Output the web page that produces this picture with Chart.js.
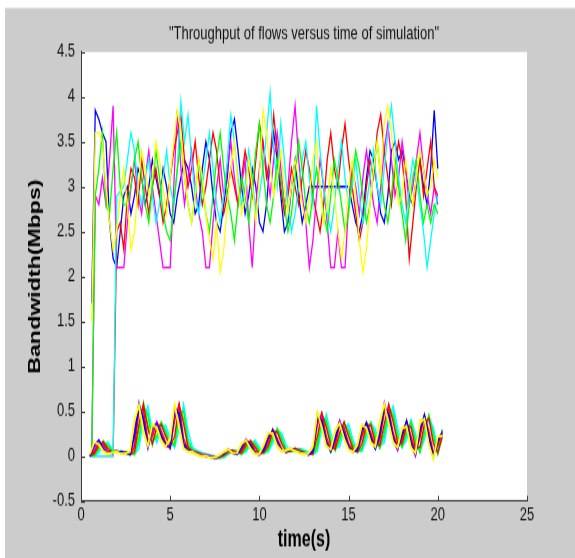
<!DOCTYPE html>
<html>
<head>
<meta charset="utf-8">
<script src="https://cdn.jsdelivr.net/npm/chart.js@4.4.1/dist/chart.umd.min.js"></script>
<style>
html,body{margin:0;padding:0;background:#ffffff;overflow:hidden;}
#c{display:block;width:575px;height:558px;}
</style>
</head>
<body>
<canvas id="c" width="575" height="385" style="width:575px;height:558px;"></canvas>
<script>
// ---------- data ----------
const titleText = '"Throughput of flows versus time of simulation"';
const xTitle = 'time(s)';
const yTitle = 'Bandwidth(Mbps)';
const xTicks = [0, 5, 10, 15, 20, 25];
const yTicks = [-0.5, 0, 0.5, 1, 1.5, 2, 2.5, 3, 3.5, 4, 4.5];

const highTimes = [
0.6,0.8,1.0,1.2,1.4,1.6,1.8,2.0,2.2,2.4,
2.6,2.8,3.0,3.2,3.4,3.6,3.8,4.0,4.2,4.4,
4.6,4.8,5.0,5.2,5.4,5.6,5.8,6.0,6.2,6.4,
6.6,6.8,7.0,7.2,7.4,7.6,7.8,8.0,8.2,8.4,
8.6,8.8,9.0,9.2,9.4,9.6,9.8,10.0,10.2,10.4,
10.6,10.8,11.0,11.2,11.4,11.6,11.8,12.0,12.2,12.4,
12.6,12.8,13.0,13.2,13.4,13.6,13.8,14.0,14.2,14.4,
14.6,14.8,15.0,15.2,15.4,15.6,15.8,16.0,16.2,16.4,
16.6,16.8,17.0,17.2,17.4,17.6,17.8,18.0,18.2,18.4,
18.6,18.8,19.0,19.2,19.4,19.6,19.8,20.0];

const highBlue = [
1.7,3.85,3.75,3.6,3.5,2.6,2.2,2.1,2.5,2.9,
3.0,2.7,2.9,3.2,3.1,2.8,3.0,3.3,3.1,2.9,
3.2,3.0,2.7,2.6,2.9,3.1,3.3,3.2,3.0,2.7,
2.8,3.2,3.5,3.3,2.9,2.6,2.5,2.8,3.1,3.6,
3.75,3.4,3.0,2.7,2.9,3.2,3.0,2.6,2.5,2.8,
3.3,3.6,3.3,2.9,2.5,2.6,3.0,3.3,2.9,2.6,
2.8,3.0,3.0,3.0,3.0,3.0,3.0,3.0,3.0,3.0,
3.0,3.0,3.0,2.8,2.6,2.5,2.7,3.1,3.4,3.3,
3.0,2.7,2.6,2.9,3.4,3.5,3.3,3.4,3.2,2.9,
2.8,3.1,3.3,3.0,2.8,3.2,3.85,3.2];

const highRed = [
0,0,0,0,0,0,0,2.5,2.6,2.3,
2.9,3.2,3.1,2.8,3.3,3.0,2.7,3.0,3.2,2.9,
2.6,2.8,3.1,3.4,3.6,3.8,3.3,3.0,3.2,3.5,
3.1,2.8,3.0,3.3,3.6,3.4,3.0,2.7,2.9,3.2,
3.0,2.8,3.1,3.4,3.2,2.9,3.3,3.7,3.5,3.1,
3.3,3.8,3.4,3.0,2.7,2.9,3.2,3.0,2.8,3.1,
3.4,3.2,2.9,2.7,2.5,2.8,3.3,3.6,3.2,3.0,
3.4,3.7,3.3,3.0,2.7,2.4,2.6,3.0,3.3,3.1,
3.6,3.8,3.4,3.1,2.8,3.2,3.5,3.3,2.9,2.2,
2.6,3.0,3.3,2.9,3.2,3.5,3.0,2.9];

const highGreen = [
0,2.9,3.2,3.6,2.8,2.7,3.2,3.6,3.0,2.8,
2.8,3.0,3.3,3.5,3.1,2.8,2.6,3.0,3.4,3.1,
2.7,2.5,2.4,2.8,3.2,3.5,3.1,2.8,2.6,2.9,
3.3,3.0,2.7,2.5,2.9,3.3,3.6,3.2,2.9,2.7,
2.4,2.8,3.1,2.9,2.6,3.0,3.4,3.7,3.2,2.8,
2.6,2.9,3.3,3.1,2.8,2.5,2.7,3.1,3.5,3.2,
2.8,2.6,2.9,3.2,3.0,2.7,2.5,2.9,3.3,3.1,
2.8,2.5,2.7,3.1,3.4,3.2,2.9,2.6,2.8,3.2,
3.5,3.1,2.8,2.6,2.9,3.3,3.0,2.7,2.4,2.8,
3.1,3.3,2.9,2.6,2.8,2.6,2.8,2.7];

const highYellow = [
1.5,3.6,3.6,3.5,3.0,2.6,2.3,2.5,2.9,3.2,
2.8,2.3,2.5,3.0,3.4,3.2,2.9,3.1,3.5,3.3,
3.0,2.7,3.1,3.5,3.85,3.6,3.1,2.8,2.6,2.9,
3.3,3.1,2.7,2.4,2.2,2.6,2.05,2.3,2.8,3.2,
3.5,3.0,2.7,2.9,3.3,3.0,2.6,3.1,3.85,3.6,
3.2,2.9,3.1,3.4,3.0,2.7,3.0,3.3,3.1,2.8,
2.6,2.9,3.3,3.5,3.0,2.6,2.8,3.2,2.9,2.5,
2.2,2.5,3.0,3.3,2.9,2.4,2.05,2.3,2.8,3.2,
3.5,3.1,3.7,3.9,3.6,3.2,2.8,2.9,3.3,3.0,
2.8,3.1,3.4,3.2,2.9,3.0,3.3,3.1];

const highCyan = [
0,0,0,0,0,0,0,2.9,2.95,3.0,
3.3,3.6,3.4,3.0,2.8,3.1,3.3,2.9,2.6,2.8,
3.1,3.4,3.0,2.8,3.2,3.95,3.5,3.8,3.3,2.9,
2.7,3.0,3.3,3.6,3.2,2.8,2.6,2.9,3.3,3.8,
3.5,3.1,2.8,3.0,3.4,3.1,2.7,2.9,3.2,3.6,
4.05,3.4,3.0,3.7,3.3,2.8,2.5,2.7,3.0,3.3,
3.5,3.1,2.8,3.9,3.4,3.0,2.7,2.5,2.8,3.2,
3.5,3.1,2.8,3.0,3.3,2.9,2.6,2.8,3.1,3.4,
3.0,2.8,3.2,3.6,3.9,3.5,3.1,2.8,2.6,3.0,
3.3,3.1,2.8,2.5,2.1,2.4,2.7,2.9];

const highMagenta = [
0,2.9,2.8,3.1,2.8,3.3,3.9,2.1,2.1,2.1,
2.6,3.0,3.3,2.9,2.7,3.1,3.4,3.0,2.7,2.4,
2.1,2.1,2.1,3.0,3.85,3.2,2.8,3.1,3.4,3.0,
2.7,2.5,2.1,2.1,2.6,3.0,3.3,2.9,3.2,3.5,
3.1,2.8,3.0,3.3,2.6,2.1,2.8,3.2,3.5,3.2,
2.9,3.3,3.6,3.2,2.8,3.0,3.5,3.9,3.3,2.9,
2.6,2.1,2.4,2.9,3.3,3.0,2.6,2.1,2.1,2.5,
2.1,2.1,2.8,3.2,3.0,2.7,3.1,3.4,3.1,2.8,
2.6,3.0,3.4,3.7,3.3,2.9,3.1,3.5,3.2,2.8,
3.0,3.3,3.6,3.2,2.9,2.7,3.0,2.8];

const lowTimes = [
0.5,0.75,1.0,1.25,1.5,1.75,2.0,2.25,2.5,2.75,
3.0,3.25,3.5,3.75,4.0,4.25,4.5,4.75,5.0,5.25,
5.5,5.75,6.0,6.25,6.5,6.75,7.0,7.25,7.5,7.75,
8.0,8.25,8.5,8.75,9.0,9.25,9.5,9.75,10.0,10.25,
10.5,10.75,11.0,11.25,11.5,11.75,12.0,12.25,12.5,12.75,
13.0,13.25,13.5,13.75,14.0,14.25,14.5,14.75,15.0,15.25,
15.5,15.75,16.0,16.25,16.5,16.75,17.0,17.25,17.5,17.75,
18.0,18.25,18.5,18.75,19.0,19.25,19.5,19.75,20.0,20.25];

const lowA = [
0.00,0.12,0.18,0.08,0.03,0.05,0.04,0.05,0.03,0.02,
0.25,0.58,0.40,0.10,0.32,0.36,0.22,0.12,0.10,0.55,
0.45,0.12,0.06,0.05,0.02,0.00,0.01,-0.01,-0.02,0.00,
0.03,0.07,0.04,0.02,0.10,0.18,0.12,0.03,0.02,0.08,
0.22,0.28,0.15,0.06,0.05,0.08,0.07,0.04,0.03,0.02,
0.05,0.45,0.38,0.15,0.05,0.20,0.38,0.25,0.10,0.05,
0.08,0.30,0.36,0.20,0.08,0.25,0.55,0.45,0.20,0.08,
0.25,0.38,0.15,0.02,0.30,0.45,0.20,0.00,0.18,0.25];
const lowB = [
0.00,0.05,0.15,0.14,0.05,0.04,0.06,0.04,0.03,0.02,
0.10,0.50,0.52,0.18,0.22,0.38,0.28,0.15,0.08,0.40,
0.58,0.20,0.08,0.04,0.03,0.01,0.00,0.00,-0.02,-0.01,
0.02,0.05,0.06,0.03,0.06,0.15,0.16,0.06,0.02,0.05,
0.16,0.30,0.20,0.08,0.04,0.06,0.08,0.05,0.03,0.02,
0.03,0.35,0.48,0.22,0.07,0.12,0.35,0.32,0.14,0.06,
0.05,0.22,0.38,0.26,0.10,0.18,0.48,0.52,0.26,0.10,
0.18,0.40,0.22,0.05,0.20,0.46,0.28,0.04,0.12,0.28];
const lowC = [
0.02,0.16,0.12,0.05,0.02,0.04,0.05,0.03,0.02,0.06,
0.42,0.55,0.25,0.12,0.36,0.30,0.16,0.10,0.22,0.58,
0.30,0.08,0.05,0.04,0.01,-0.01,0.00,-0.02,-0.01,0.01,
0.05,0.08,0.03,0.04,0.15,0.17,0.08,0.02,0.03,0.14,
0.27,0.24,0.10,0.05,0.07,0.09,0.05,0.03,0.02,0.03,
0.12,0.50,0.30,0.10,0.08,0.30,0.36,0.18,0.07,0.04,
0.15,0.36,0.30,0.14,0.12,0.40,0.58,0.35,0.14,0.10,
0.32,0.32,0.08,0.05,0.40,0.40,0.12,-0.02,0.22,0.22];
const lowD = [
0.00,0.02,0.10,0.17,0.10,0.04,0.05,0.05,0.04,0.02,
0.03,0.30,0.60,0.35,0.12,0.30,0.37,0.24,0.12,0.15,
0.55,0.42,0.12,0.06,0.04,0.02,0.01,0.00,-0.01,-0.02,
0.00,0.04,0.07,0.04,0.03,0.10,0.18,0.12,0.04,0.03,
0.10,0.24,0.29,0.16,0.06,0.05,0.08,0.07,0.04,0.03,
0.02,0.15,0.46,0.36,0.14,0.06,0.22,0.38,0.24,0.09,
0.04,0.10,0.32,0.36,0.18,0.09,0.30,0.56,0.42,0.18,
0.10,0.30,0.36,0.12,0.06,0.32,0.44,0.18,0.02,0.20];
const lowE = [
0.00,0.00,0.06,0.15,0.14,0.05,0.04,0.06,0.04,0.02,
0.02,0.15,0.52,0.50,0.20,0.18,0.36,0.30,0.16,0.10,
0.40,0.55,0.20,0.08,0.05,0.03,0.02,0.01,0.00,-0.02,
-0.01,0.03,0.06,0.05,0.02,0.06,0.14,0.16,0.08,0.03,
0.06,0.18,0.30,0.22,0.08,0.05,0.06,0.08,0.06,0.04,
0.02,0.08,0.38,0.44,0.20,0.08,0.14,0.35,0.32,0.14,
0.06,0.06,0.24,0.38,0.26,0.10,0.20,0.48,0.52,0.26,
0.10,0.22,0.40,0.20,0.05,0.22,0.45,0.28,0.05,0.30];
const lowF = [
0.01,0.10,0.17,0.10,0.04,0.03,0.05,0.04,0.03,0.03,
0.30,0.60,0.36,0.08,0.30,0.38,0.20,0.10,0.12,0.56,
0.42,0.10,0.05,0.06,0.03,0.01,0.02,0.00,-0.03,0.01,
0.04,0.06,0.03,0.03,0.12,0.19,0.10,0.03,0.01,0.10,
0.24,0.26,0.12,0.05,0.06,0.09,0.06,0.04,0.02,0.03,
0.06,0.48,0.35,0.12,0.06,0.24,0.40,0.22,0.08,0.04,
0.10,0.33,0.34,0.17,0.09,0.28,0.60,0.40,0.17,0.06,
0.28,0.36,0.12,0.00,0.34,0.44,0.16,-0.03,0.20,0.24];
const lowG = [
0.00,0.07,0.16,0.12,0.04,0.05,0.05,0.03,0.02,0.03,
0.14,0.54,0.48,0.15,0.25,0.37,0.25,0.13,0.09,0.45,
0.55,0.16,0.07,0.05,0.02,0.02,0.01,-0.01,-0.01,0.00,
0.03,0.06,0.05,0.02,0.08,0.17,0.14,0.05,0.02,0.06,
0.18,0.29,0.18,0.07,0.05,0.07,0.08,0.05,0.03,0.02,
0.04,0.40,0.44,0.18,0.06,0.15,0.37,0.28,0.12,0.05,
0.06,0.25,0.37,0.24,0.09,0.21,0.52,0.48,0.23,0.09,
0.20,0.39,0.19,0.04,0.24,0.46,0.24,0.02,0.15,0.27];
const lowH = [
0.00,0.03,0.12,0.16,0.08,0.05,0.04,0.05,0.04,0.02,
0.05,0.36,0.58,0.30,0.14,0.33,0.35,0.22,0.11,0.22,
0.58,0.36,0.10,0.05,0.04,0.02,0.00,0.00,-0.02,-0.01,
0.01,0.05,0.06,0.04,0.04,0.12,0.17,0.10,0.03,0.04,
0.12,0.27,0.27,0.14,0.05,0.06,0.09,0.06,0.04,0.02,
0.03,0.22,0.48,0.32,0.12,0.08,0.26,0.38,0.22,0.08,
0.05,0.14,0.35,0.34,0.15,0.12,0.36,0.58,0.38,0.15,
0.14,0.34,0.32,0.09,0.10,0.36,0.42,0.14,0.04,0.22];
const lowI = [
0.00,0.01,0.08,0.16,0.12,0.06,0.05,0.05,0.05,0.03,
0.02,0.20,0.56,0.45,0.16,0.22,0.38,0.27,0.14,0.12,
0.46,0.50,0.16,0.07,0.05,0.03,0.02,0.00,-0.01,-0.02,
0.00,0.03,0.07,0.05,0.02,0.08,0.16,0.14,0.06,0.03,
0.08,0.20,0.31,0.20,0.07,0.05,0.07,0.08,0.05,0.03,
0.02,0.10,0.42,0.40,0.17,0.07,0.18,0.36,0.28,0.12,
0.05,0.08,0.28,0.37,0.22,0.09,0.25,0.52,0.47,0.22,
0.12,0.25,0.38,0.16,0.04,0.26,0.46,0.24,0.03,0.28];
const lowJ = [
0.03,0.15,0.14,0.06,0.03,0.04,0.04,0.03,0.03,0.05,
0.38,0.58,0.30,0.11,0.34,0.33,0.18,0.11,0.18,0.57,
0.35,0.09,0.05,0.05,0.02,0.00,0.01,-0.02,-0.02,0.01,
0.04,0.07,0.04,0.03,0.13,0.18,0.09,0.03,0.02,0.12,
0.25,0.26,0.12,0.06,0.06,0.08,0.06,0.04,0.03,0.03,
0.10,0.48,0.33,0.12,0.07,0.27,0.37,0.20,0.08,0.05,
0.12,0.34,0.32,0.16,0.10,0.35,0.58,0.38,0.16,0.09,
0.30,0.34,0.10,0.03,0.36,0.42,0.14,-0.04,0.21,0.23];
const lowK = [
0.00,0.00,0.04,0.12,0.16,0.08,0.05,0.05,0.05,0.03,
0.02,0.08,0.42,0.56,0.28,0.15,0.32,0.34,0.20,0.10,
0.30,0.58,0.28,0.10,0.06,0.04,0.02,0.01,0.00,-0.01,
-0.02,0.02,0.05,0.06,0.03,0.05,0.12,0.18,0.10,0.04,
0.05,0.14,0.28,0.26,0.12,0.06,0.05,0.08,0.07,0.04,
0.02,0.05,0.30,0.47,0.26,0.10,0.10,0.30,0.36,0.18,
0.07,0.05,0.18,0.36,0.30,0.12,0.15,0.42,0.56,0.32,
0.10,0.18,0.40,0.25,0.06,0.18,0.42,0.32,0.08,0.30];
const lowL = [
0.00,0.11,0.17,0.09,0.03,0.04,0.05,0.04,0.03,0.02,
0.22,0.56,0.42,0.11,0.30,0.37,0.23,0.12,0.10,0.52,
0.48,0.14,0.06,0.05,0.03,0.01,0.00,-0.01,-0.03,0.00,
0.03,0.08,0.04,0.02,0.09,0.18,0.13,0.04,0.02,0.07,
0.21,0.29,0.16,0.06,0.05,0.07,0.07,0.05,0.03,0.02,
0.05,0.43,0.40,0.16,0.05,0.19,0.39,0.26,0.10,0.05,
0.07,0.29,0.37,0.21,0.08,0.24,0.56,0.46,0.20,0.08,
0.24,0.39,0.16,0.01,0.28,0.46,0.21,0.00,0.17,0.26];

// ---------- styling ----------
const BLUE = '#0000ff', RED = '#ff0000', GREEN = '#00ff00',
      YELLOW = '#ffff00', CYAN = '#00ffff', MAGENTA = '#ff00ff';

const lowSeries = [
  [lowC, YELLOW], [lowJ, YELLOW], [lowA, BLUE], [lowF, MAGENTA], [lowL, BLUE],
  [lowB, RED], [lowG, MAGENTA], [lowH, RED], [lowD, GREEN], [lowI, GREEN],
  [lowE, CYAN], [lowK, CYAN]
];
const highSeries = [
  [highYellow, YELLOW], [highGreen, GREEN], [highCyan, CYAN],
  [highRed, RED], [highMagenta, MAGENTA], [highBlue, BLUE]
];

function pairs(times, vals) {
  return vals.map((v, i) => ({ x: times[i], y: v }));
}

const datasets = [];
lowSeries.forEach(([vals, col]) => datasets.push({
  data: pairs(lowTimes, vals), borderColor: col, borderWidth: 1.3,
  pointRadius: 0, tension: 0, fill: false
}));
highSeries.forEach(([vals, col]) => datasets.push({
  data: pairs(highTimes, vals), borderColor: col, borderWidth: 1.3,
  pointRadius: 0, tension: 0, fill: false
}));

const S = 558 / 385; // vertical stretch of the figure

const bgPlugin = {
  id: 'bg',
  beforeDraw(chart) {
    const ctx = chart.ctx, a = chart.chartArea;
    ctx.save();
    ctx.fillStyle = '#ffffff';
    ctx.fillRect(0, 0, chart.width, chart.height);
    ctx.fillStyle = '#cccccc';
    ctx.fillRect(5, 8 / S, chart.width - 5, chart.height);
    ctx.fillStyle = '#ffffff';
    ctx.fillRect(a.left, a.top, a.right - a.left, a.bottom - a.top);
    ctx.restore();
  },
  afterDraw(chart) {
    const ctx = chart.ctx, a = chart.chartArea;
    const xs = chart.scales.x, ys = chart.scales.y;
    ctx.save();
    ctx.strokeStyle = '#3a3a3a';
    ctx.lineWidth = 1;
    ctx.beginPath();
    ys.ticks.forEach(t => {
      const y = Math.round(ys.getPixelForValue(t.value)) + 0.5;
      ctx.moveTo(a.left, y); ctx.lineTo(a.left + 4, y);
    });
    xs.ticks.forEach(t => {
      const x = Math.round(xs.getPixelForValue(t.value)) + 0.5;
      ctx.moveTo(x, a.bottom); ctx.lineTo(x, a.bottom - 3.5);
    });
    ctx.stroke();
    ctx.restore();
  }
};

const FONT = "'Liberation Sans', Arial, Helvetica, sans-serif";

new Chart(document.getElementById('c'), {
  type: 'line',
  data: { datasets },
  plugins: [bgPlugin],
  options: {
    responsive: false,
    animation: false,
    devicePixelRatio: 1,
    layout: { padding: { left: 0, right: 48, top: 0, bottom: 0 } },
    plugins: {
      legend: { display: false },
      tooltip: { enabled: false },
      title: {
        display: true, text: titleText, fullSize: false,
        color: '#111111',
        font: { family: FONT, size: 13, weight: 'normal' },
        padding: { top: 15.7, bottom: 4.5 }
      }
    },
    scales: {
      x: {
        type: 'linear', min: 0, max: 25,
        afterBuildTicks(s) { s.ticks = xTicks.map(v => ({ value: v })); },
        ticks: { color: '#111111', padding: 2, maxRotation: 0, autoSkip: false,
                 font: { family: FONT, size: 13 },
                 callback: v => String(v) },
        grid: { display: false, drawTicks: false },
        border: { display: true, color: '#3a3a3a', width: 1 },
        title: { display: true, text: xTitle, color: '#000000',
                 font: { family: FONT, size: 16, weight: 'bold' },
                 padding: { top: 0, bottom: 3 } },
        afterFit(s) { s.height = 385 - 345.7; }
      },
      y: {
        type: 'linear', min: -0.5, max: 4.5,
        afterBuildTicks(s) { s.ticks = yTicks.map(v => ({ value: v })); },
        ticks: { color: '#111111', padding: 6, autoSkip: false,
                 font: { family: FONT, size: 13 },
                 callback: v => String(v) },
        grid: { display: false, drawTicks: false },
        border: { display: true, color: '#3a3a3a', width: 1 },
        title: { display: true, text: yTitle, color: '#000000',
                 font: { family: FONT, size: 16, weight: 'bold' },
                 padding: { top: 26.4, bottom: 0 } },
        afterFit(s) { s.width = 81; }
      }
    }
  }
});
</script>
</body>
</html>
